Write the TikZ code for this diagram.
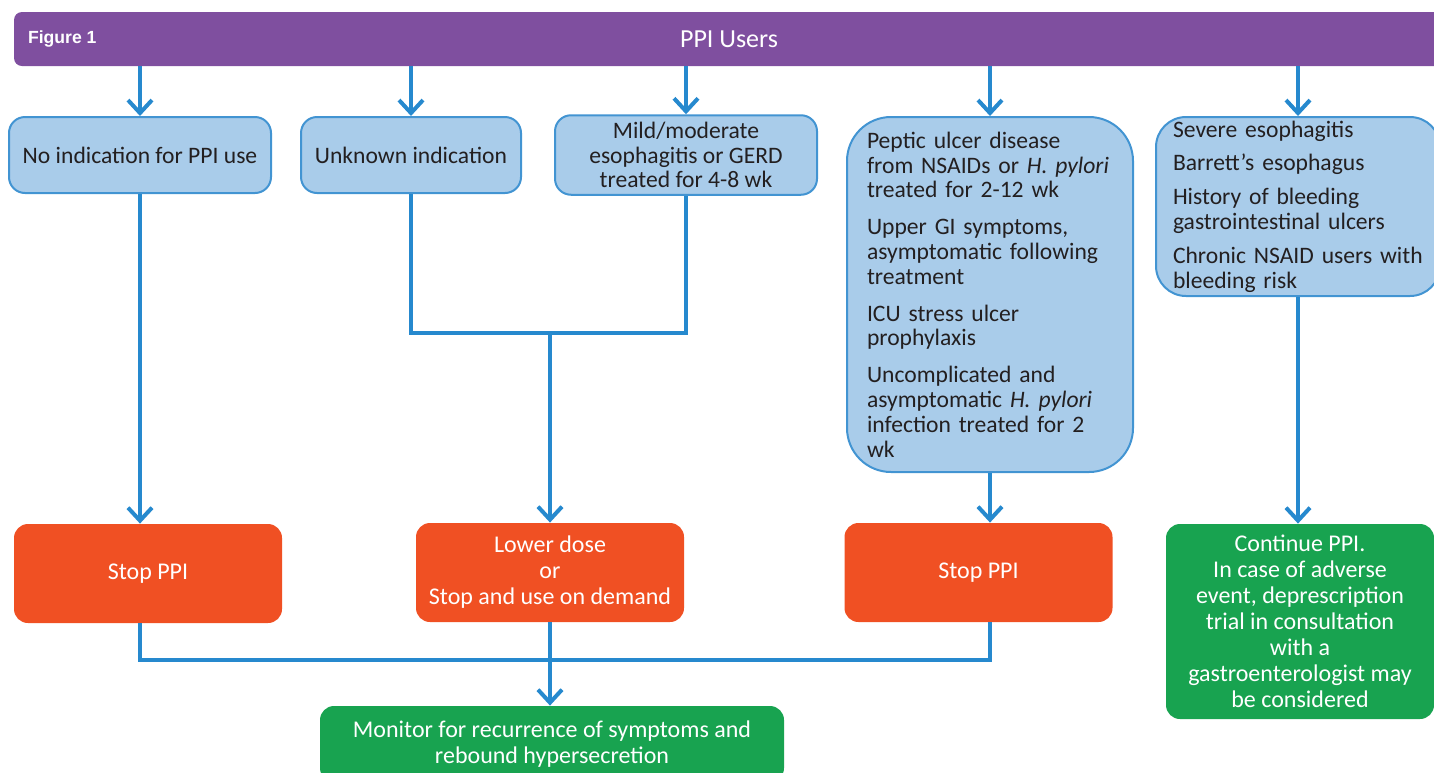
\documentclass[tikz,border=0pt]{standalone}
\usepackage{fontspec}
\setmainfont{Carlito}
\newfontfamily\figfont{Liberation Sans}
\usetikzlibrary{arrows.meta,positioning,calc}
\definecolor{barpurple}{RGB}{127,79,159}
\definecolor{lineblue}{RGB}{38,137,206}
\definecolor{boxblue}{RGB}{66,148,210}
\definecolor{paleblue}{RGB}{169,204,234}
\definecolor{stoporange}{RGB}{240,80,35}
\definecolor{okgreen}{RGB}{24,163,80}
\definecolor{inkgray}{RGB}{35,31,32}
\tikzset{
  topbar/.style={rectangle, rounded corners=4pt, fill=barpurple, text=white, minimum width=715pt, minimum height=27pt, font=\fontsize{13}{14}\selectfont},
  figlabel/.style={text=white, font=\figfont\bfseries\fontsize{8.8}{10}\selectfont, inner sep=0pt},
  indic/.style={rectangle, rounded corners=8pt, draw=boxblue, line width=1pt, fill=paleblue, text=inkgray, align=center, minimum height=38pt, font=\fontsize{11.8}{12.4}\selectfont},
  biglist/.style={indic, rounded corners=22pt, align=left, inner ysep=0pt},
  action/.style={rectangle, rounded corners=7pt, fill=stoporange, text=white, align=center, minimum width=134pt, minimum height=49.5pt, font=\fontsize{12}{13}\selectfont},
  keep/.style={action, fill=okgreen},
  arrow/.style={-{Straight Barb[length=6.5pt,width=12pt]}, line width=2pt, draw=lineblue},
  link/.style={line width=2pt, draw=lineblue}
}

\begin{document}
\begin{tikzpicture}[x=0.5pt, y=-0.5pt]
  \useasboundingbox (0,0) rectangle (1434,772);
  % header
  \node[topbar] (bar) at (729,39) {PPI Users};
  \node[figlabel, anchor=west] (figno) at ([xshift=7pt]bar.west) {Figure 1};

  % indications
  \node[indic, minimum width=131pt] (noind) at (140,155) {No indication for PPI use};
  \node[indic, minimum width=110pt] (unk) at (411,155) {Unknown indication};
  \node[indic, minimum width=131pt] (mild) at (686,155) {Mild/moderate\\esophagitis or GERD\\treated for 4-8 wk};
  \node[biglist, minimum width=143pt, text width=123pt, inner xsep=10pt, minimum height=177.5pt] (pud) at (990,294.5)
    {Peptic ulcer disease\\from NSAIDs or \textit{H. pylori}\\treated for 2-12 wk\\[6pt]
     Upper GI symptoms,\\asymptomatic following\\treatment\\[6pt]
     ICU stress ulcer\\prophylaxis\\[6pt]
     Uncomplicated and\\asymptomatic \textit{H. pylori}\\infection treated for 2\\wk};
  \node[biglist, rounded corners=15pt, minimum width=140pt, text width=125pt, inner xsep=8.5pt, minimum height=89.5pt] (sev) at (1298,206.5)
    {Severe esophagitis\\[4.5pt]
     Barrett’s esophagus\\[4.5pt]
     History of bleeding\\gastrointestinal ulcers\\[4.5pt]
     Chronic NSAID users with\\bleeding risk};

  % actions
  \node[action] (stopa) at (148,573.5) {Stop PPI};
  \node[action] (lower) at (550,572.5) {Lower dose\\or\\Stop and use on demand};
  \node[action] (stopb) at (978.5,572.5) {Stop PPI};
  \node[keep, minimum height=97.5pt] (cont) at (1300,621.5)
    {Continue PPI.\\In case of adverse\\event, deprescription\\trial in consultation\\with a\\gastroenterologist may\\be considered};
  \node[keep, minimum width=232pt, minimum height=38pt] (monitor) at (552,744)
    {Monitor for recurrence of symptoms and\\rebound hypersecretion};

  % joins
  \coordinate (j1) at (550,333);
  \coordinate (j2) at (550,660);

  % connectors
  \foreach \b in {noind,unk,mild,pud,sev}
    \draw[arrow] (\b.north |- bar.south) -- (\b.north);
  \draw[arrow] (noind.south) -- (noind.south |- stopa.north);
  \draw[link] (unk.south) |- (j1) -| (mild.south);
  \draw[arrow] (j1) -- (lower.north);
  \draw[arrow] (pud.south) -- (pud.south |- stopb.north);
  \draw[arrow] (sev.south) -- (sev.south |- cont.north);
  \draw[link] (noind.south |- stopa.south) |- (j2) -| (pud.south |- stopb.south);
  \draw[arrow] (lower.south) -- (lower.south |- monitor.north);
\end{tikzpicture}
\end{document}
